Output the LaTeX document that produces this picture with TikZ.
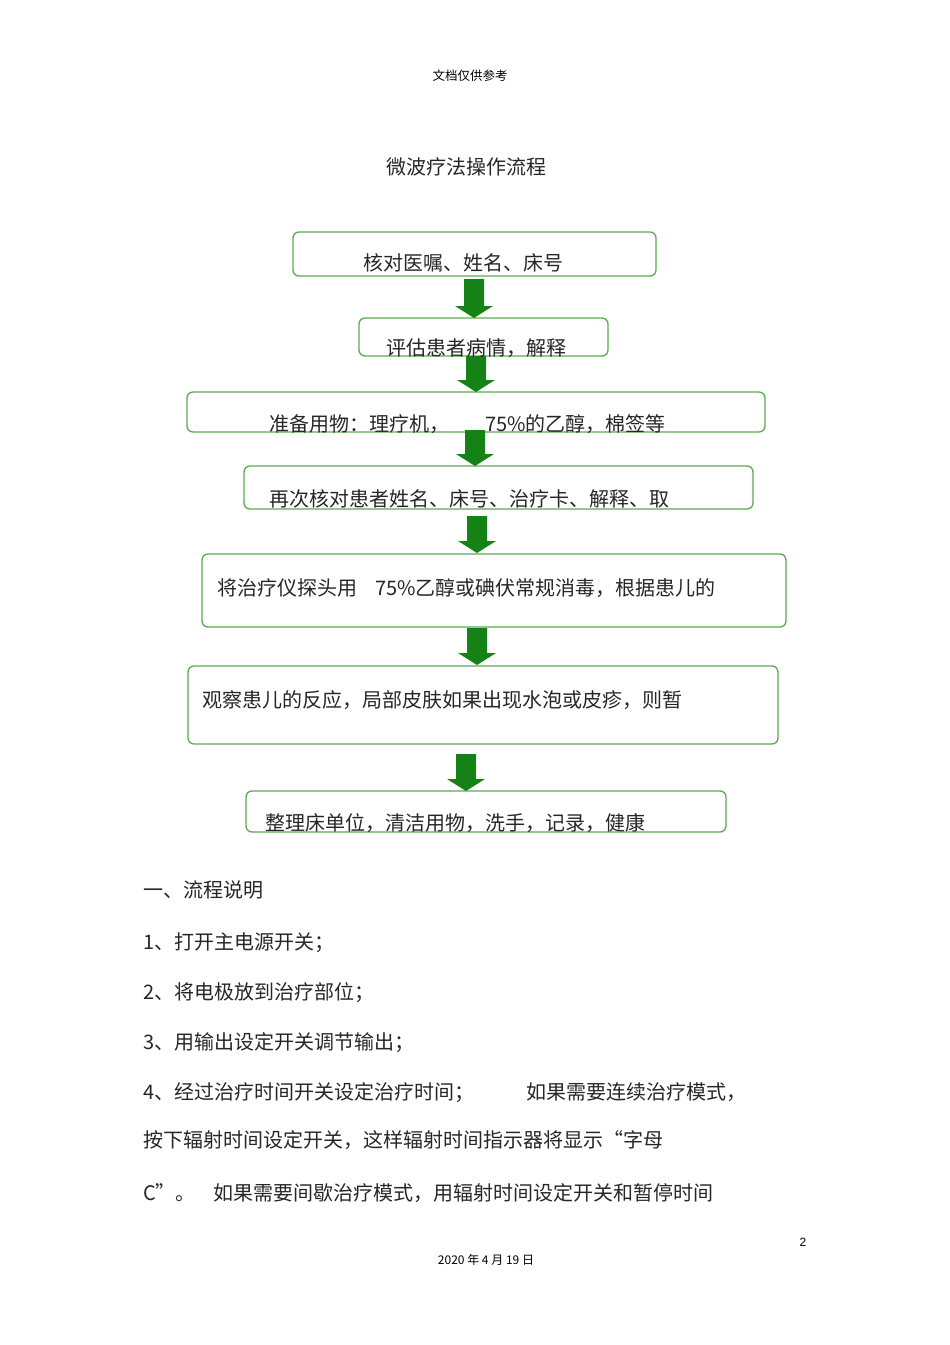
\documentclass[tikz,border=0pt]{standalone}
\usepackage{fontspec}
\setmainfont{Liberation Sans}
\newfontfamily\cjk{Noto Sans CJK SC}
\definecolor{boxg}{RGB}{90,170,80}
\definecolor{arrg}{RGB}{20,130,20}
\begin{document}
\begin{tikzpicture}[x=1pt,y=-1pt,
  box/.style={draw=boxg,line width=1.3pt,rounded corners=6pt},
  txt/.style={font=\cjk\fontsize{20}{24}\selectfont,text=black!85,inner sep=0pt},
  para/.style={font=\cjk\fontsize{20}{24}\selectfont,text=black!85,inner sep=0pt,anchor=west}]
\useasboundingbox (0,0) rectangle (950,1345);
\newcommand\barrow[3]{\fill[arrg] (#1-10,#2) -- (#1+10,#2) -- (#1+10,#3-12) -- (#1+19,#3-12) -- (#1,#3) -- (#1-19,#3-12) -- (#1-10,#3-12) -- cycle;}
\node[font=\cjk\fontsize{12.5}{14}\selectfont] (hdr) at (470,76) {文档仅供参考};
\node[txt] (title) at (466,167) {微波疗法操作流程};
\draw[box] (293,232) rectangle (656,276);
\draw[box] (359,318) rectangle (608,356);
\draw[box] (187,392) rectangle (765,432);
\draw[box] (244,466) rectangle (753,509);
\draw[box] (202,554) rectangle (786,627);
\draw[box] (188,666) rectangle (778,744);
\draw[box] (246,791) rectangle (726,832);
\barrow{474}{279}{318}
\barrow{476}{356}{392}
\barrow{475}{430}{466}
\barrow{477}{516}{553}
\barrow{477}{628}{665}
\barrow{466}{754}{791}
\node[txt] (t1) at (463,263) {核对医嘱、姓名、床号};
\node[txt] (t2) at (476,348) {评估患者病情，解释};
\node[para] (t3) at (269,424) {准备用物：理疗机，\hspace{1.8em}75\%的乙醇，棉签等};
\node[para] (t4) at (269,499) {再次核对患者姓名、床号、治疗卡、解释、取};
\node[para] (t5) at (217,588) {将治疗仪探头用\hspace{0.9em}75\%乙醇或碘伏常规消毒，根据患儿的};
\node[para] (t6) at (202,700) {观察患儿的反应，局部皮肤如果出现水泡或皮疹，则暂};
\node[para] (t7) at (265,823) {整理床单位，清洁用物，洗手，记录，健康};
\node[para] (p0) at (143,890) {一、流程说明};
\node[para] (p1) at (143,943) {1、打开主电源开关；};
\node[para] (p2) at (143,993) {2、将电极放到治疗部位；};
\node[para] (p3) at (143,1043) {3、用输出设定开关调节输出；};
\node[para] (p4) at (143,1093) {4、经过治疗时间开关设定治疗时间；\hspace{2.6em}如果需要连续治疗模式，};
\node[para] (p5) at (143,1140) {按下辐射时间设定开关，这样辐射时间指示器将显示“字母};
\node[para] (p6) at (143,1193) {C”。\hspace{0.9em}如果需要间歇治疗模式，用辐射时间设定开关和暂停时间};
\node[font=\fontsize{12}{14}\selectfont] (pg) at (803,1242) {2};
\node[font=\cjk\fontsize{12}{14}\selectfont] (dt) at (486,1260) {2020 年 4 月 19 日};
\end{tikzpicture}
\end{document}
